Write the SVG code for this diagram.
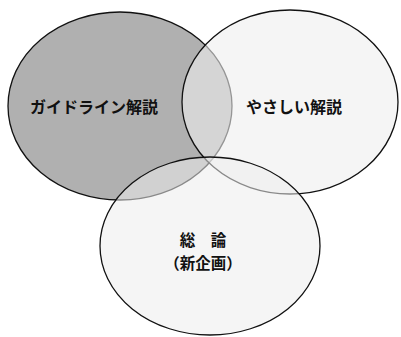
<svg xmlns="http://www.w3.org/2000/svg" width="401" height="337" viewBox="0 0 401 337">
<style>
.e{stroke:#111;stroke-width:1.3}
.t{font-family:"Noto Sans CJK JP","Noto Sans",sans-serif;font-weight:bold;font-size:16px;fill:#111;text-anchor:middle}
.s{font-size:15.5px}
</style>
<rect width="401" height="337" fill="#fff"/>
<g id="left">
<ellipse class="e" cx="120" cy="106" rx="112" ry="94" fill="#b0b0b0"/>
</g>
<g id="right">
<ellipse class="e" cx="290" cy="102" rx="108" ry="92" fill="#efefef" fill-opacity="0.6"/>
</g>
<g id="bottom">
<ellipse class="e" cx="210" cy="246" rx="110" ry="89" fill="#ededed" fill-opacity="0.55"/>
</g>
<g id="labels">
<text class="t" x="94" y="113">ガイドライン解説</text>
<text class="t" x="294" y="113">やさしい解説</text>
<text class="t s" x="203" y="246">総　論</text>
<text class="t s" x="203" y="269">（新企画）</text>
</g>
</svg>
